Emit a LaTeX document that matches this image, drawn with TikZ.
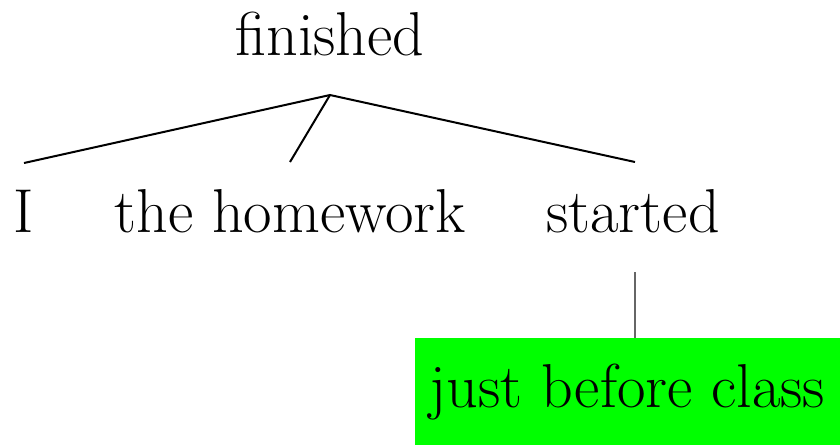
\documentclass[tikz,border=0pt]{standalone}
\usepackage{tikz}
\begin{document}
\begin{tikzpicture}[x=0.5pt,y=-0.5pt,
  word/.style={anchor=base,inner sep=0pt,font=\fontsize{31}{37}\selectfont},
  edge/.style={line width=1pt,black},
  hl/.style={word,fill={rgb,255:red,0;green,255;blue,0},minimum width=212.5pt,minimum height=53.5pt}]
  \useasboundingbox (0,0) rectangle (840,447);
  % words of the tree
  \node[word] (fin) at (330,55) {finished};
  \node[word] (i) at (24,232) {I};
  \node[word] (hw) at (290,232) {the homework};
  \node[word] (st) at (633,232) {started};
  \node[hl] (jbc) at (627.5,407) {just before class};
  % attachment points of the branches
  \coordinate (root) at (330,95);
  \coordinate (ti) at (24,163);
  \coordinate (thw) at (290,162);
  \coordinate (tst) at (635,162);
  \coordinate (bst) at (635,272);
  \draw[edge] (ti) -- (root) -- (tst);
  \draw[edge] (root) -- (thw);
  \draw[line width=1pt,black!60] (bst) -- (bst |- jbc.north);
\end{tikzpicture}
\end{document}
